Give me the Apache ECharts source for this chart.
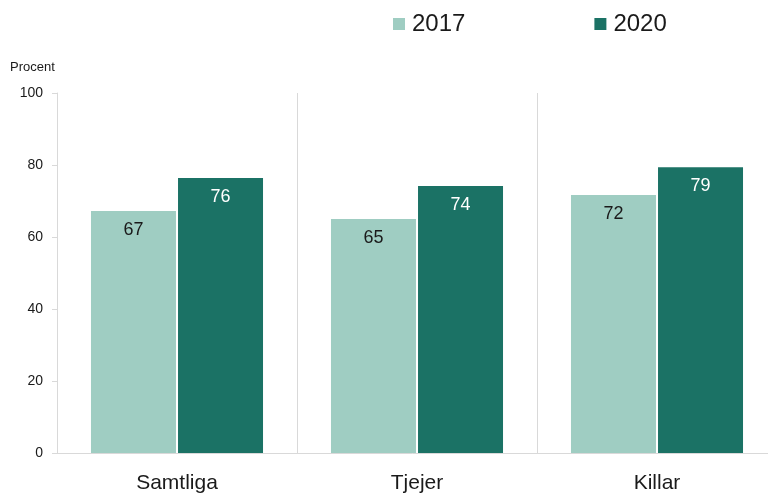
<!DOCTYPE html>
<html><head><meta charset="utf-8">
<script src="https://cdn.jsdelivr.net/npm/echarts@6/dist/echarts.min.js"></script>
<style>html,body{margin:0;padding:0;background:#fff}#c{width:768px;height:493px}</style>
</head><body><div id="c"></div>
<script>
var categories = ['Samtliga', 'Tjejer', 'Killar'];
var seriesNames = ['2017', '2020'];
var values2017 = [67.2, 65.0, 71.7];
var values2020 = [76.4, 74.2, 79.4];
var labels2017 = ['67', '65', '72'];
var labels2020 = ['76', '74', '79'];
var yTicks = [0, 20, 40, 60, 80, 100];

var font = '"Liberation Sans", Arial, sans-serif';
var chart = echarts.init(document.getElementById('c'));
chart.setOption({
  animation: false,
  textStyle: { fontFamily: font },
  legend: {
    data: seriesNames,
    left: 388, top: 7,
    icon: 'rect', itemWidth: 12, itemHeight: 12, itemGap: 129,
    textStyle: { fontSize: 24, color: '#1a1a1a', fontFamily: font, padding: [0, 0, 0, 2] }
  },
  graphic: [{ type: 'text', left: 10, top: 61, style: { text: 'Procent', fontSize: 13, fill: '#1a1a1a', fontFamily: font } }],
  grid: { left: 57, top: 93, right: -9, height: 360, outerBoundsMode: 'none', containLabel: false },
  xAxis: {
    type: 'category', data: categories,
    axisLine: { show: true, lineStyle: { color: '#d9d9d9', width: 1 } },
    axisTick: { show: false },
    splitLine: { show: true, lineStyle: { color: '#d9d9d9', width: 1 } },
    axisLabel: { fontSize: 21, color: '#1a1a1a', margin: 20, fontFamily: font }
  },
  yAxis: {
    type: 'value', min: 0, max: 100, interval: 20,
    axisLine: { show: true, lineStyle: { color: '#d9d9d9', width: 1 } },
    axisTick: { show: true, length: 5, lineStyle: { color: '#d9d9d9' } },
    splitLine: { show: false },
    axisLabel: { fontSize: 14, color: '#1a1a1a', margin: 14, fontFamily: font,
      formatter: function (v) { return yTicks.indexOf(v) >= 0 ? String(v) : ''; } }
  },
  series: [
    { name: seriesNames[0], type: 'bar', data: values2017, barWidth: 85, barGap: '2.4%',
      itemStyle: { color: '#9fcdc2' },
      label: { show: true, position: 'insideTop', distance: 10, fontSize: 18, color: '#1a1a1a', fontFamily: font,
        formatter: function (p) { return labels2017[p.dataIndex]; } } },
    { name: seriesNames[1], type: 'bar', data: values2020, barWidth: 85,
      itemStyle: { color: '#1b7265' },
      label: { show: true, position: 'insideTop', distance: 10, fontSize: 18, color: '#ffffff', fontFamily: font,
        formatter: function (p) { return labels2020[p.dataIndex]; } } }
  ]
});
</script></body></html>
